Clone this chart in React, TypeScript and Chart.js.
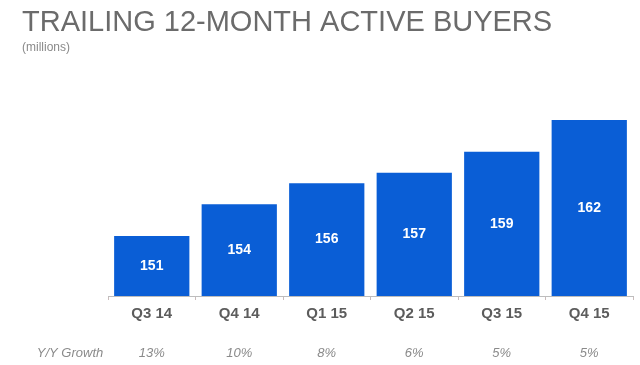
import React, { useEffect, useRef } from "react";
import { Chart, registerables } from "chart.js";

Chart.register(...registerables);

const TITLE = "TRAILING 12-MONTH ACTIVE BUYERS";
const SUBTITLE = "(millions)";
const categories = ["Q3 14", "Q4 14", "Q1 15", "Q2 15", "Q3 15", "Q4 15"];
const buyers = [151, 154, 156, 157, 159, 162];
const growthLabel = "Y/Y Growth";
const growth = ["13%", "10%", "8%", "6%", "5%", "5%"];

const FONT = '"Liberation Sans", Arial, sans-serif';

const overlayPlugin = {
  id: "overlay",
  afterDraw(chart: any) {
    const ctx = chart.ctx;
    ctx.save();
    // title
    ctx.fillStyle = "#6b6b6b";
    ctx.font = `29px ${FONT}`;
    ctx.textAlign = "left";
    ctx.textBaseline = "alphabetic";
    ctx.fillText(TITLE, 22, 31);
    ctx.fillStyle = "#8a8a8a";
    ctx.font = `12px ${FONT}`;
    ctx.fillText(SUBTITLE, 22, 51);

    // values inside bars
    const xs = chart.scales.x;
    const ys = chart.scales.y;
    const bottom = chart.chartArea.bottom;
    ctx.fillStyle = "#ffffff";
    ctx.font = `bold 14px ${FONT}`;
    ctx.textAlign = "center";
    ctx.textBaseline = "middle";
    buyers.forEach((v, i) => {
      const top = ys.getPixelForValue(v);
      ctx.fillText(String(v), xs.getPixelForValue(i), (top + bottom) / 2);
    });

    // growth row
    ctx.fillStyle = "#8a8a8a";
    ctx.font = `italic 13px ${FONT}`;
    ctx.textBaseline = "alphabetic";
    ctx.fillText(growthLabel, 70, 357);
    growth.forEach((g, i) => {
      ctx.fillText(g, xs.getPixelForValue(i), 357);
    });
    ctx.restore();
  },
};

export default function App() {
  const ref = useRef<HTMLCanvasElement | null>(null);
  useEffect(() => {
    if (!ref.current) return;
    const chart = new Chart(ref.current, {
      type: "bar",
      data: {
        labels: categories,
        datasets: [
          {
            data: buyers,
            backgroundColor: "#0a5ed6",
            borderWidth: 0,
            categoryPercentage: 1,
            barPercentage: 0.86,
          },
        ],
      },
      options: {
        responsive: false,
        animation: false,
        layout: { padding: { top: 100, left: 108, right: 7, bottom: 0 } },
        plugins: {
          legend: { display: false },
          tooltip: { enabled: false },
          title: { display: false },
        },
        scales: {
          y: {
            display: false,
            min: 145.3,
            max: 163.9,
          },
          x: {
            afterFit: (scale: any) => {
              scale.height = 69;
            },
            grid: {
              display: true,
              offset: true,
              drawOnChartArea: false,
              drawTicks: true,
              tickLength: 4,
              color: "#c9bcbc",
            },
            border: { display: true, color: "#bdbdbd", width: 1 },
            ticks: {
              color: "#5c5c5c",
              font: { family: FONT, size: 15, weight: "bold" },
              padding: 5,
              maxRotation: 0,
            },
          },
        },
      },
      plugins: [overlayPlugin],
    });
    return () => chart.destroy();
  }, []);
  return (
    <div style={{ position: "fixed", left: 0, top: 0, width: 640, height: 365, background: "#ffffff" }}>
      <canvas ref={ref} width={640} height={365} />
    </div>
  );
}
